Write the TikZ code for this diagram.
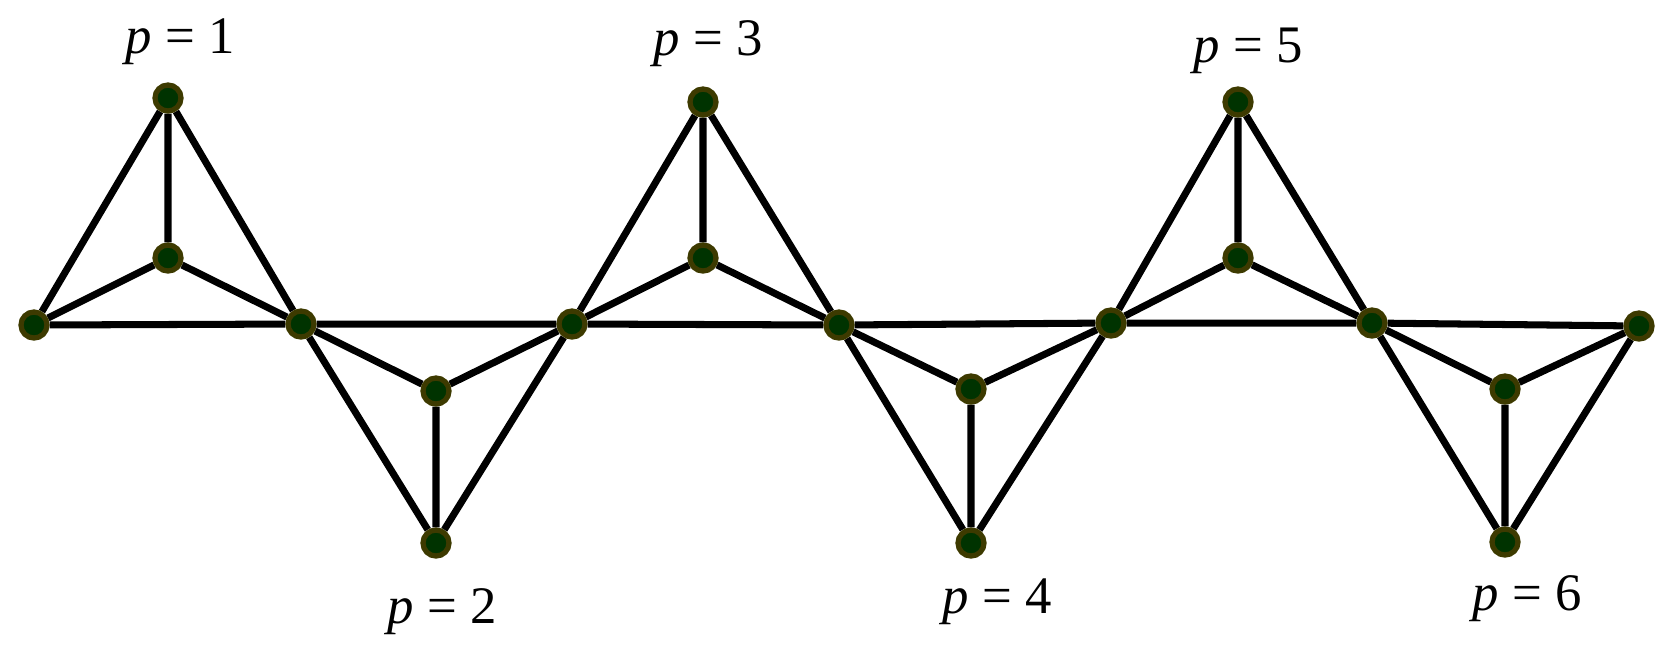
\documentclass[tikz,border=0pt]{standalone}
\usepackage{fontspec}
\setmainfont{Liberation Serif}
\usetikzlibrary{backgrounds}
\definecolor{vtxfill}{RGB}{0,51,0}
\definecolor{vtxring}{RGB}{61,58,0}
\tikzset{
  vtx/.style={circle, draw=vtxring, fill=vtxfill, line width=1.5pt, inner sep=0pt, minimum size=0.26cm},
  edge/.style={line width=2pt, black},
  plabel/.style={anchor=base, font=\fontsize{15}{17}\selectfont}
}
\begin{document}
\begin{tikzpicture}[x=0.01cm, y=-0.01cm]
        \useasboundingbox (0,0) rectangle (1678,644);

        \node[vtx] (l0) at (34, 325) {};
        \node[vtx] (j1) at (301, 324) {};
        \node[vtx] (j2) at (572, 324) {};
        \node[vtx] (j3) at (839, 325) {};
        \node[vtx] (j4) at (1111, 323) {};
        \node[vtx] (j5) at (1372, 323) {};
        \node[vtx] (r0) at (1639, 326) {};

        \node[vtx] (t1) at (168, 98) {};
        \node[vtx] (m1) at (168, 258) {};
        \node[vtx] (t3) at (703, 102) {};
        \node[vtx] (m3) at (703, 258) {};
        \node[vtx] (t5) at (1238, 102) {};
        \node[vtx] (m5) at (1238, 258) {};

        \node[vtx] (n2) at (436, 391) {};
        \node[vtx] (b2) at (436, 543) {};
        \node[vtx] (n4) at (971, 389) {};
        \node[vtx] (b4) at (971, 543) {};
        \node[vtx] (n6) at (1505, 389) {};
        \node[vtx] (b6) at (1505, 542) {};

        \begin{scope}[on background layer]
          \draw[edge] (l0) -- (j1) (j1) -- (j2) (j2) -- (j3) (j3) -- (j4) (j4) -- (j5) (j5) -- (r0);
          \foreach \a/\b/\c/\m in {l0/j1/t1/m1, j1/j2/b2/n2, j2/j3/t3/m3, j3/j4/b4/n4, j4/j5/t5/m5, j5/r0/b6/n6}
            \draw[edge] (\a) -- (\c) (\b) -- (\c) (\c) -- (\m) (\a) -- (\m) (\b) -- (\m);
        \end{scope}

        \node[plabel] (lab1) at (180, 53) {\textit{p} = 1};
        \node[plabel] (lab2) at (442, 623) {\textit{p} = 2};
        \node[plabel] (lab3) at (708, 55) {\textit{p} = 3};
        \node[plabel] (lab4) at (997, 613) {\textit{p} = 4};
        \node[plabel] (lab5) at (1248, 62) {\textit{p} = 5};
        \node[plabel] (lab6) at (1527, 610) {\textit{p} = 6};

\end{tikzpicture}
\end{document}
